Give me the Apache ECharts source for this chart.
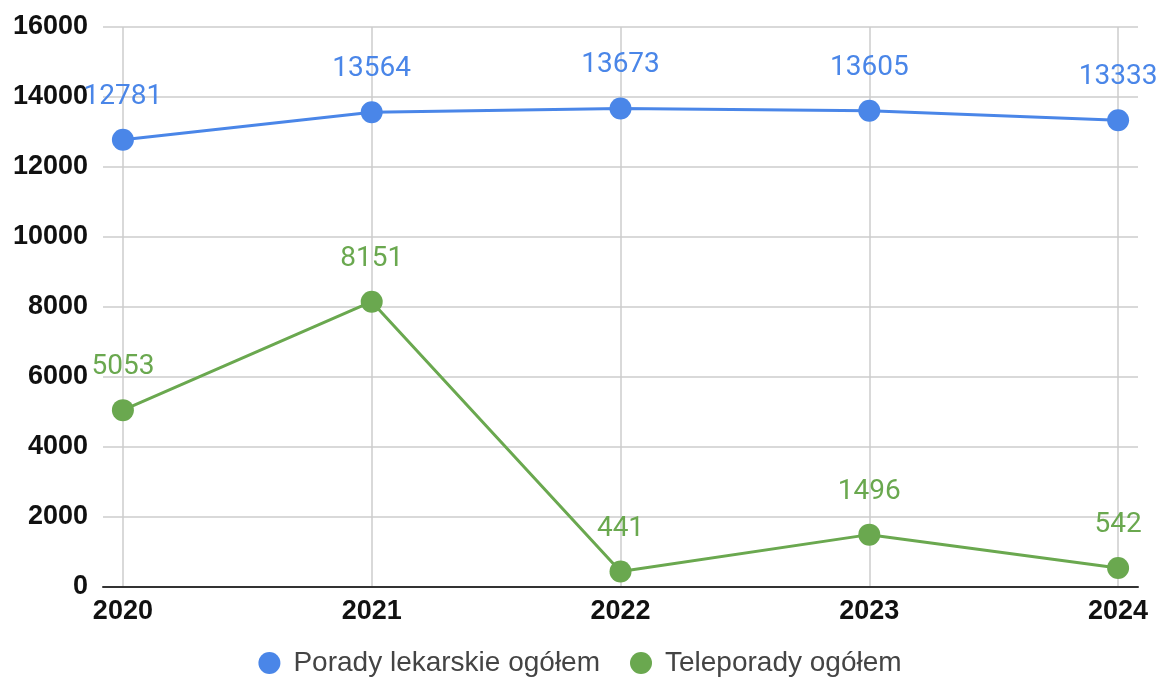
<!DOCTYPE html>
<html><head><meta charset="utf-8">
<script src="https://cdn.jsdelivr.net/npm/echarts@6/dist/echarts.min.js"></script>
<style>html,body{margin:0;padding:0;background:#fff}#c{width:1160px;height:682px}</style>
</head><body><div id="c"></div>
<script>
const years = [2020, 2021, 2022, 2023, 2024];
const porady = [12781, 13564, 13673, 13605, 13333];
const teleporady = [5053, 8151, 441, 1496, 542];
const seriesNames = ['Porady lekarskie ogółem', 'Teleporady ogółem'];

const chart = echarts.init(document.getElementById('c'));
const mk = (name, vals, color) => ({
  name, type: 'line', data: years.map((y, i) => [y, vals[i]]),
  symbol: 'circle', symbolSize: 22, color,
  lineStyle: { width: 3, color },
  itemStyle: { color },
  label: { show: true, position: 'top', distance: 18, color, fontFamily: 'Roboto', fontSize: 28 },
  z: 3
});
chart.setOption({
  animation: false,
  grid: { left: 103, right: 22, top: 27, bottom: 95 },
  legend: {
    bottom: 0, left: 'center', icon: 'circle', itemWidth: 38, itemHeight: 22, itemGap: 30,
    textStyle: { fontFamily: 'Liberation Sans', fontSize: 28, color: '#444' }
  },
  xAxis: {
    type: 'value', min: 2019.92, max: 2024.08,
    axisLine: { show: true, onZero: true, lineStyle: { color: '#333', width: 2 } },
    axisTick: { show: false, customValues: years },
    axisLabel: { customValues: years, color: '#111', fontWeight: 'bold', fontFamily: 'Liberation Sans', fontSize: 27, margin: 11, formatter: v => String(v) },
    splitLine: { show: true, lineStyle: { color: '#ccc', width: 1.5 } }
  },
  yAxis: {
    type: 'value', min: 0, max: 16000, interval: 2000,
    axisLine: { show: false }, axisTick: { show: false },
    axisLabel: { color: '#111', fontWeight: 'bold', fontFamily: 'Liberation Sans', fontSize: 27, margin: 15, formatter: v => String(v) },
    splitLine: { lineStyle: { color: '#ccc', width: 1.5 } }
  },
  series: [mk(seriesNames[0], porady, '#4a86e8'), mk(seriesNames[1], teleporady, '#6aa84f')]
});
</script></body></html>
